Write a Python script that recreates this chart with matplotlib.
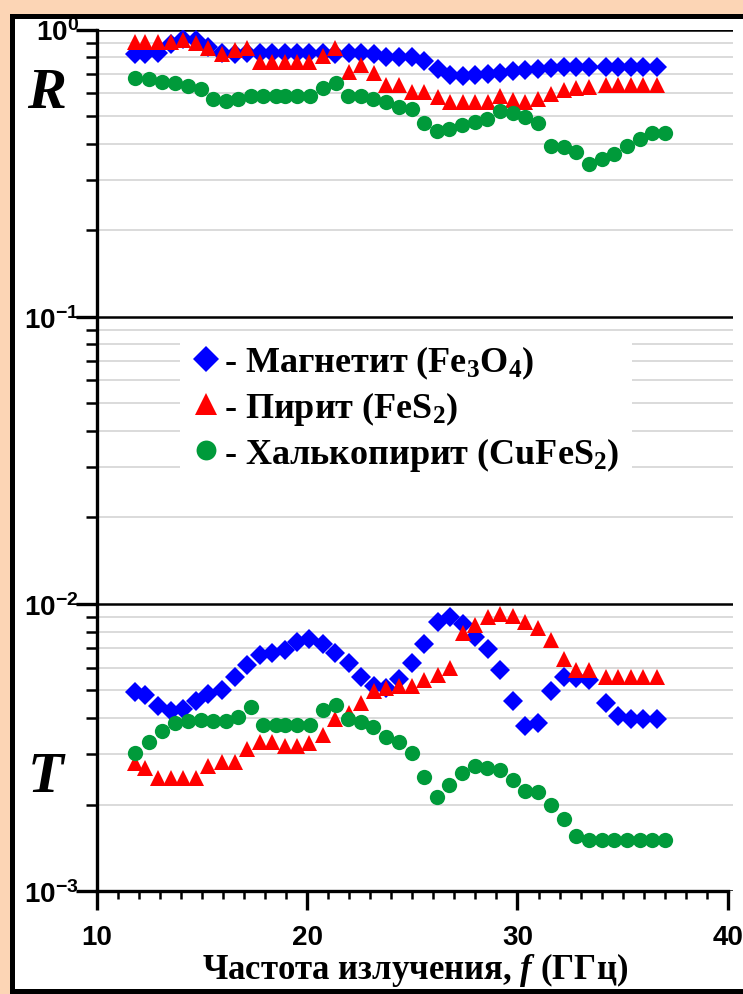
import math
import matplotlib
matplotlib.use('Agg')
import matplotlib.pyplot as plt
from matplotlib.ticker import FixedLocator, MultipleLocator, FuncFormatter, NullFormatter
from matplotlib.patches import Rectangle

plt.rcParams['font.family'] = 'Liberation Sans'
plt.rcParams['font.weight'] = 'bold'
plt.rcParams['mathtext.fontset'] = 'custom'
plt.rcParams['mathtext.rm'] = 'Liberation Serif:bold'
plt.rcParams['mathtext.it'] = 'Liberation Serif:italic:bold'
plt.rcParams['mathtext.bf'] = 'Liberation Serif:bold'
plt.rcParams['mathtext.sf'] = 'Liberation Sans:bold'

# частоты (ГГц)
f_mr = [11.81, 12.30, 12.89, 13.52, 14.11, 14.71, 15.30, 15.93, 16.54, 17.12,
        17.73, 18.31, 18.92, 19.50, 20.10, 20.75, 21.33, 21.97, 22.57, 23.16,
        23.76, 24.37, 24.97, 25.57, 26.20, 26.79, 27.39, 27.98, 28.58, 29.17,
        29.78, 30.36, 30.97, 31.60, 32.19, 32.79, 33.42, 34.20, 34.80, 35.40,
        35.99, 36.63]
f_ch = [11.81, 12.49, 13.11, 13.71, 14.31, 14.93, 15.50, 16.12, 16.72, 17.31,
        17.91, 18.51, 18.94, 19.51, 20.13, 20.76, 21.35, 21.95, 22.54, 23.14,
        23.74, 24.37, 25.00, 25.55, 26.15, 26.76, 27.34, 27.98, 28.57, 29.17,
        29.78, 30.36, 30.97, 31.60, 32.19, 32.79, 33.41, 34.02, 34.60, 35.21,
        35.81, 36.41, 37.03]

# отражение R
R_magnetite = [0.82, 0.82, 0.83, 0.89, 0.93, 0.92, 0.87, 0.83, 0.82, 0.83,
               0.83, 0.83, 0.83, 0.83, 0.83, 0.83, 0.82, 0.83, 0.83, 0.82,
               0.80, 0.80, 0.80, 0.777, 0.73, 0.695, 0.69, 0.695, 0.70, 0.705,
               0.716, 0.724, 0.73, 0.737, 0.74, 0.74, 0.74, 0.74, 0.74, 0.74,
               0.74, 0.74]
R_pyrite = [0.905, 0.905, 0.905, 0.905, 0.92, 0.90, 0.86, 0.82, 0.85, 0.865,
            0.77, 0.77, 0.77, 0.77, 0.77, 0.81, 0.865, 0.71, 0.75, 0.705,
            0.64, 0.641, 0.605, 0.605, 0.583, 0.561, 0.558, 0.558, 0.561, 0.586,
            0.568, 0.561, 0.571, 0.597, 0.614, 0.628, 0.632, 0.641, 0.641, 0.641,
            0.641, 0.641]
R_chalco = [0.677, 0.673, 0.659, 0.65, 0.637, 0.62, 0.575, 0.564, 0.571, 0.586,
            0.586, 0.586, 0.586, 0.586, 0.586, 0.627, 0.65, 0.589, 0.586, 0.571,
            0.558, 0.538, 0.528, 0.472, 0.444, 0.45, 0.466, 0.477, 0.488, 0.521,
            0.51, 0.497, 0.472, 0.394, 0.39, 0.373, 0.34, 0.354, 0.368, 0.392,
            0.415, 0.436, 0.436]

# прохождение T (x1e-3)
T_magnetite = [4.95, 4.82, 4.41, 4.22, 4.30, 4.57, 4.85, 5.02, 5.54, 6.13,
               6.65, 6.74, 6.92, 7.39, 7.52, 7.24, 6.74, 6.22, 5.56, 5.18,
               5.09, 5.47, 6.22, 7.24, 8.61, 8.99, 8.52, 7.69, 6.96, 5.89,
               4.60, 3.76, 3.86, 4.99, 5.56, 5.51, 5.44, 4.53, 4.07, 3.97,
               3.97, 3.97]
T_pyrite = [2.79, 2.68, 2.48, 2.48, 2.48, 2.48, 2.73, 2.82, 2.82, 3.12,
            3.29, 3.31, 3.21, 3.21, 3.27, 3.49, 3.96, 4.18, 4.51, 4.99,
            5.09, 5.18, 5.18, 5.44, 5.66, 5.97, 7.91, 8.46, 8.99, 9.24,
            9.09, 8.61, 8.23, 7.49, 6.42, 5.89, 5.89, 5.54, 5.54, 5.54,
            5.54, 5.54]
T_chalco = [3.02, 3.31, 3.62, 3.84, 3.92, 3.94, 3.92, 3.92, 4.05, 4.37,
            3.79, 3.79, 3.79, 3.79, 3.79, 4.27, 4.45, 3.97, 3.87, 3.72,
            3.43, 3.31, 3.02, 2.50, 2.13, 2.34, 2.57, 2.73, 2.69, 2.63,
            2.44, 2.23, 2.21, 2.00, 1.78, 1.55, 1.51, 1.51, 1.51, 1.51,
            1.51, 1.51, 1.51]

labels = ['- Магнетит (Fe$_3$O$_4$)', '- Пирит (FeS$_2$)', '- Халькопирит (CuFeS$_2$)']
blue, red, green = '#0000FF', '#FF0000', '#009A3A'

W, H = 743, 995
fig = plt.figure(figsize=(W / 100, H / 100), dpi=100)
fig.patch.set_facecolor('#FCD5B5')
fig.patches.append(Rectangle((12 / W, 3 / H), 1.0, (H - 20) / H, transform=fig.transFigure,
                             facecolor='white', edgecolor='black', lw=3.6, zorder=-1))

ax = fig.add_axes([97 / W, (H - 892) / H, (733 - 97) / W, (892 - 30.5) / H])
ax.set_zorder(1)
ax.set_facecolor('none')
ax.set_yscale('log')
ax.set_ylim(1e-3, 1)
ax.set_xlim(10, 40.25)

# горизонтальная сетка
ax.yaxis.set_major_locator(FixedLocator([1e-3, 1e-2, 1e-1, 1]))
minors = [m * 10.0 ** e for e in (-3, -2, -1) for m in range(2, 10)]
ax.yaxis.set_minor_locator(FixedLocator(minors))
ax.grid(True, which='major', axis='y', color='black', lw=1.8, zorder=1)
ax.grid(True, which='minor', axis='y', color='#d4d4d4', lw=1.2, zorder=1)

ms = dict(ls='none', markeredgewidth=0, zorder=3)
ax.plot(f_mr, R_magnetite, marker='D', ms=10, color=blue, **ms)
ax.plot(f_mr, R_pyrite, marker='^', ms=12, color=red, **ms)
ax.plot(f_ch, R_chalco, marker='o', ms=11, color=green, **ms)
ax.plot(f_mr, [t * 1e-3 for t in T_magnetite], marker='D', ms=10, color=blue, label=labels[0], **ms)
ax.plot(f_mr, [t * 1e-3 for t in T_pyrite], marker='^', ms=12, color=red, label=labels[1], **ms)
ax.plot(f_ch, [t * 1e-3 for t in T_chalco], marker='o', ms=11, color=green, label=labels[2], **ms)

for s in ('top', 'right'):
    ax.spines[s].set_visible(False)
ax.spines['left'].set_linewidth(2.4)
ax.spines['bottom'].set_linewidth(2.4)
ax.spines['bottom'].set_bounds(10, 40)

ax.set_xticks([10, 20, 30, 40])
ax.xaxis.set_minor_locator(MultipleLocator(1))
ax.tick_params(axis='x', which='major', direction='out', length=14, width=2.4, pad=10, labelsize=20)
ax.tick_params(axis='x', which='minor', direction='out', length=6, width=1.8)
ax.tick_params(axis='y', which='major', direction='out', length=15, width=2.4, pad=-2, labelsize=20)
ax.tick_params(axis='y', which='minor', direction='out', length=8, width=1.8)
ax.yaxis.set_major_formatter(FuncFormatter(lambda v, p: r'$\mathsf{10^{%d}}$' % round(math.log10(v))))
ax.yaxis.set_minor_formatter(NullFormatter())

ax.set_xlabel('Частота излучения, $f$ (ГГц)', family='Liberation Serif', weight='bold',
              fontsize=25, labelpad=0)

fig.text(47 / W, 1 - 94 / H, 'R', family='Liberation Serif', style='italic', weight='bold',
         fontsize=42, ha='center', va='center')
fig.text(46 / W, 1 - 778 / H, 'T', family='Liberation Serif', style='italic', weight='bold',
         fontsize=42, ha='center', va='center')

leg = ax.legend(loc='upper left', bbox_to_anchor=(0.13, 0.983 - 0.333), frameon=True,
                facecolor='white', edgecolor='none', framealpha=1, fancybox=False,
                prop={'family': 'Liberation Serif', 'weight': 'bold', 'size': 26},
                handletextpad=0.12, handlelength=0.75, labelspacing=0.22, borderpad=0.35,
                borderaxespad=0, markerscale=1.3)
leg.set_zorder(4)

fig.savefig('out.png', dpi=100, facecolor=fig.get_facecolor())
